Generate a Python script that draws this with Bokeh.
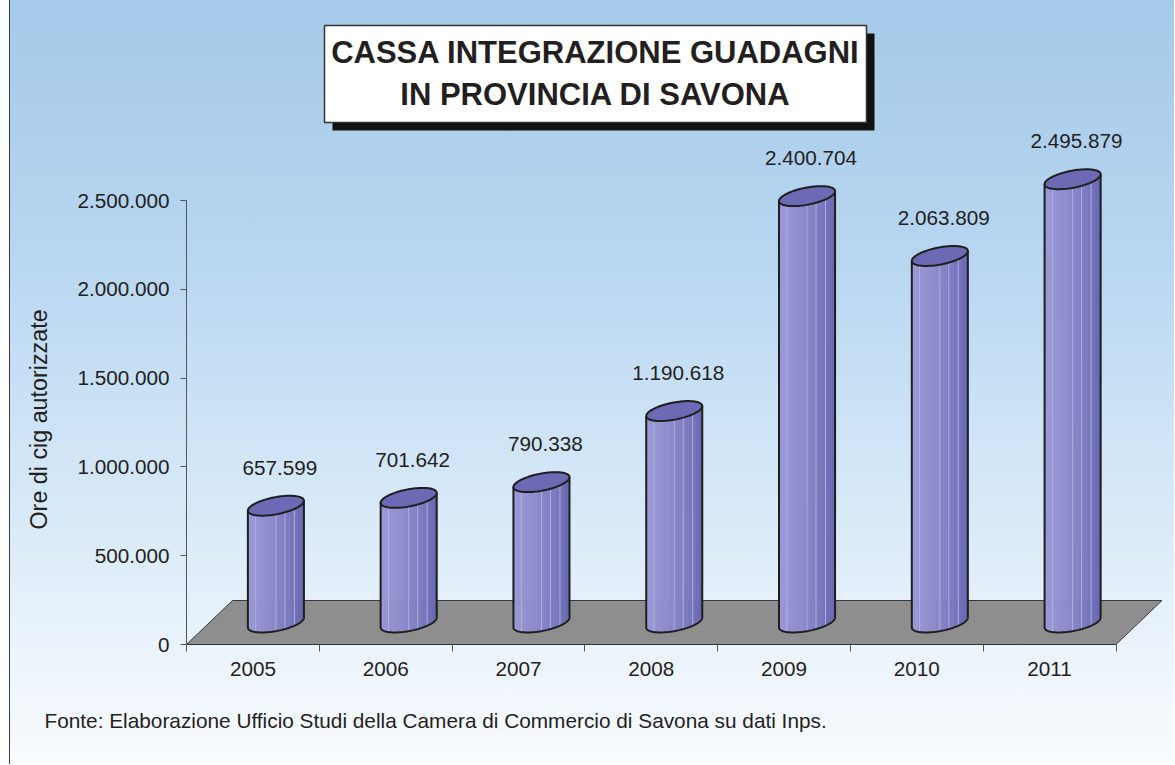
import numpy as np
from bokeh.plotting import figure
from bokeh.models import Range1d, FixedTicker, CustomJSTickFormatter, Title
from bokeh.embed import file_html
from bokeh.resources import INLINE
from bokeh.core.properties import value

# ---------------- data ----------------
years = ["2005", "2006", "2007", "2008", "2009", "2010", "2011"]
hours = [657599, 701642, 790338, 1190618, 2400704, 2063809, 2495879]
y_ticks = [0, 500000, 1000000, 1500000, 2000000, 2500000]
title_lines = ["CASSA INTEGRAZIONE GUADAGNI", "IN PROVINCIA DI SAVONA"]
y_title = "Ore di cig autorizzate"
source_note = "Fonte: Elaborazione Ufficio Studi della Camera di Commercio di Savona su dati Inps."

# ---------------- layout / scales ----------------
OX, OY = 0, 0               # page offset of canvas
W, H = 1174, 764
ML, MT = 186 - OX, 12 - OY
MB = H - (644 - OY)
MR = W - (1165 - OX)
FW = W - ML - MR
FH = H - MT - MB
KX = 929.5 / 7              # px per category
KY = 444 / 2500000          # px per hour
x_end = FW / KX
y_end = FH / KY

FONT = "Liberation Sans"
TXT = "#231F20"

def px_x(px):  # page pixel -> data x (decorations only)
    return (px - 186) / KX

def px_y(py):  # page pixel -> data y (decorations only)
    return (644 - py) / KY

DX, DY = 46, 44             # 3-D depth offset in px

p = figure(width=W, height=H, x_range=Range1d(0, x_end), y_range=Range1d(0, y_end),
           output_backend="svg", toolbar_location=None,
           min_border_left=ML, min_border_right=MR, min_border_top=MT, min_border_bottom=MB)
p.xgrid.visible = False
p.ygrid.visible = False
p.outline_line_color = None
p.background_fill_alpha = 0
p.border_fill_alpha = 0
p.styles = {
    "background": ("linear-gradient(90deg, #ffffff 0px, #ffffff 9px, #3a3a3a 9px, #3a3a3a 10px, "
                   "rgba(255,255,255,0) 10px), "
                   "linear-gradient(180deg, #A6CAEA 0%, #B5D4EF 30%, #C8E0F5 50%, #DDECF8 72%, "
                   "#EEF5FC 88%, #F9FBFE 100%)"),
}

# ---------------- floor ----------------
n = len(years)
fx = [0, n, n + DX / KX, DX / KX]
fy = [0, 0, DY / KY, DY / KY]
p.patch(fx, fy, fill_color="#8E8E8E", line_color="#3a3a3a", line_width=1)

# ---------------- cylinders ----------------
A, B, TH = 28.5, 8.5, np.radians(11)

def ell(t):
    ex = A * np.cos(t) * np.cos(TH) - B * np.sin(t) * np.sin(TH)
    ey = A * np.cos(t) * np.sin(TH) + B * np.sin(t) * np.cos(TH)
    return ex, ey

t0 = np.arctan(-(B * np.sin(TH)) / (A * np.cos(TH)))
lx, ly = ell(np.linspace(t0 + np.pi, t0 + 2 * np.pi, 80))
XE = lx[-1]
ex_full, ey_full = ell(np.linspace(0, 2 * np.pi, 100))

def ylow(x):
    return np.interp(x, lx, ly)

stops = [(0.0, (155, 153, 214)), (0.40, (142, 140, 204)), (0.70, (126, 124, 193)), (1.0, (104, 104, 178))]

def stripe_color(f):
    for (f0, c0), (f1, c1) in zip(stops[:-1], stops[1:]):
        if f0 <= f <= f1:
            u = (f - f0) / (f1 - f0)
            return "#%02x%02x%02x" % tuple(int(round(c0[k] + u * (c1[k] - c0[k]))) for k in range(3))
    return "#%02x%02x%02x" % stops[-1][1]

NS = 16
edges = np.linspace(-XE, XE, NS + 1)
hl_fracs = [0.14, 0.5, 0.66, 0.83]

sx, sy, sc = [], [], []
hx, hy = [], []
ox, oy = [], []
tx, ty = [], []
for i, v in enumerate(hours):
    cx = i + 0.5 + (DX / 2) / KX
    yb_px = (DY / 2)
    yt_px = v * KY + DY / 2
    for k in range(NS):
        xs = np.linspace(edges[k], edges[k + 1], 6)
        bot = yb_px + ylow(xs)
        top = yt_px + ylow(xs)
        px_list = np.concatenate([xs, xs[::-1]])
        py_list = np.concatenate([bot, top[::-1]])
        sx.append(list(cx + px_list / KX))
        sy.append(list(py_list / KY))
        sc.append(stripe_color((k + 0.5) / NS))
    for f in hl_fracs:
        xh = -XE + f * 2 * XE
        hx.append([cx + xh / KX, cx + xh / KX])
        hy.append([(yb_px + ylow(xh)) / KY, (yt_px + ylow(xh)) / KY])
    ol_x = np.concatenate([[-XE], lx, [XE]])
    ol_y = np.concatenate([[yt_px + ylow(-XE)], yb_px + ly, [yt_px + ylow(XE)]])
    ox.append(list(cx + ol_x / KX))
    oy.append(list(ol_y / KY))
    tx.append(list(cx + ex_full / KX))
    ty.append(list((yt_px + ey_full) / KY))

p.patches(sx, sy, fill_color=sc, line_color=sc, line_width=0.6)
p.multi_line(hx, hy, line_color="#B4B2E4", line_width=1, line_alpha=0.9)
p.multi_line(ox, oy, line_color="#1E1E1E", line_width=2)
p.patches(tx, ty, fill_color="#6C6AB4", line_color="#1E1E1E", line_width=2)

# ---------------- value labels ----------------
def fmt(v):
    return f"{v:,}".replace(",", ".")

lab_x = [i + 0.5 + (DX / 2 + 4) / KX for i in range(n)]
lab_y = [v + 60 / KY for v in hours]
p.text(lab_x, lab_y, text=[fmt(v) for v in hours], text_align="center", text_baseline="middle",
       text_font=value(FONT), text_font_size="20.7px", text_color=TXT)

# ---------------- axes ----------------
xa = p.xaxis[0]
xa.ticker = FixedTicker(ticks=[i + 0.5 for i in range(n)], minor_ticks=list(range(n + 1)))
xa.formatter = CustomJSTickFormatter(args=dict(years=years),
                                     code="const i = Math.floor(tick); return years[i] || '';")
xa.bounds = (0, n)
xa.axis_line_color = "#333333"
xa.axis_line_width = 1
xa.major_tick_out = 0
xa.major_tick_in = 0
xa.minor_tick_out = 7
xa.minor_tick_in = 0
xa.minor_tick_line_color = "#555555"
xa.major_label_standoff = 10
xa.major_label_text_font = FONT
xa.major_label_text_font_size = "20.7px"
xa.major_label_text_color = TXT

ya = p.yaxis[0]
ya.ticker = FixedTicker(ticks=y_ticks, minor_ticks=[])
ya.formatter = CustomJSTickFormatter(
    code=r"return Math.round(tick).toString().replace(/\B(?=(\d{3})+(?!\d))/g, '.');")
ya.bounds = (0, y_ticks[-1])
ya.axis_line_color = "#555555"
ya.major_tick_out = 6
ya.major_tick_in = 0
ya.major_tick_line_color = "#555555"
ya.minor_tick_out = 0
ya.minor_tick_in = 0
ya.major_label_standoff = 11
ya.major_label_text_font = FONT
ya.major_label_text_font_size = "20.7px"
ya.major_label_text_color = TXT

# y-axis title as a side title (so it can be positioned along the axis)
p.add_layout(Title(text=y_title, align="left", offset=115, standoff=46,
                   text_font=FONT, text_font_size="23.3px", text_font_style="normal",
                   text_color=TXT), "left")

# ---------------- title box ----------------
BL, BR, BT, BB = 324, 866, 25, 122
SH = 8
p.quad(left=[px_x(BL + SH)], right=[px_x(BR + SH)], top=[px_y(BT + SH)], bottom=[px_y(BB + SH)],
       fill_color="#111111", line_color=None)
p.quad(left=[px_x(BL)], right=[px_x(BR)], top=[px_y(BT)], bottom=[px_y(BB)],
       fill_color="white", line_color="#333333", line_width=1.5)
p.text([px_x((BL + BR) / 2)] * 2, [px_y(52), px_y(94)], text=title_lines,
       text_align="center", text_baseline="middle", text_font=value(FONT),
       text_font_style="bold", text_font_size="31px", text_color=TXT)

# ---------------- source note ----------------
p.add_layout(Title(text=source_note, align="left", offset=44 - 186, standoff=56,
                   text_font=FONT, text_font_size="20.8px", text_font_style="normal",
                   text_color=TXT), "below")

open("out.html", "w").write(file_html(p, INLINE))
